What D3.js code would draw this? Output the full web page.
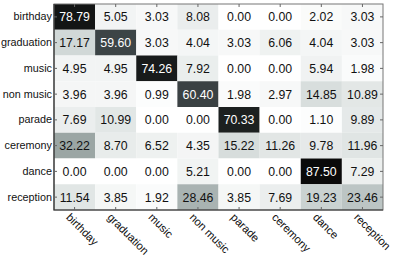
<!DOCTYPE html>
<html lang="en">
<head>
<meta charset="UTF-8">
<title>Confusion matrix</title>
<script src="https://d3js.org/d3.v7.min.js"></script>
<style>
  body { margin: 0; background: #fff; }
  text { font-family: "Liberation Sans", Arial, sans-serif; }
</style>
</head>
<body>
<svg id="chart" width="399" height="258"></svg>
<script>
// row = true class, column = predicted class (percent)
const classes = ['birthday', 'graduation', 'music', 'non music', 'parade', 'ceremony', 'dance', 'reception'];
const birthday   = [78.79, 5.05, 3.03, 8.08, 0.00, 0.00, 2.02, 3.03];
const graduation = [17.17, 59.60, 3.03, 4.04, 3.03, 6.06, 4.04, 3.03];
const music      = [4.95, 4.95, 74.26, 7.92, 0.00, 0.00, 5.94, 1.98];
const nonMusic   = [3.96, 3.96, 0.99, 60.40, 1.98, 2.97, 14.85, 10.89];
const parade     = [7.69, 10.99, 0.00, 0.00, 70.33, 0.00, 1.10, 9.89];
const ceremony   = [32.22, 8.70, 6.52, 4.35, 15.22, 11.26, 9.78, 11.96];
const dance      = [0.00, 0.00, 0.00, 5.21, 0.00, 0.00, 87.50, 7.29];
const reception  = [11.54, 3.85, 1.92, 28.46, 3.85, 7.69, 19.23, 23.46];
const matrix = [birthday, graduation, music, nonMusic, parade, ceremony, dance, reception];

const svg = d3.select('#chart');
const pLeft = 54, pTop = 4, pRight = 383, pBottom = 210;

const x = d3.scaleBand().domain(classes).range([pLeft, pRight]);
const y = d3.scaleBand().domain(classes).range([pTop, pBottom]);

const color = d3.scaleLinear()
  .domain([0, 15, 23.5, 32.2, 59.6, 70, 87.5])
  .range(['#ffffff', '#d8dedd', '#bcc5c4', '#9ba6a4', '#3c4446', '#1c2020', '#0a0a0a'])
  .clamp(true);

const cells = [];
matrix.forEach((row, i) => row.forEach((v, j) => cells.push({ r: classes[i], c: classes[j], v })));

svg.append('g').selectAll('rect')
  .data(cells).enter().append('rect')
  .attr('x', d => x(d.c))
  .attr('y', d => y(d.r))
  .attr('width', x.bandwidth())
  .attr('height', y.bandwidth())
  .attr('fill', d => color(d.v));

svg.append('g').selectAll('text')
  .data(cells).enter().append('text')
  .attr('x', d => x(d.c) + x.bandwidth() / 2)
  .attr('y', d => y(d.r) + y.bandwidth() / 2)
  .attr('dy', '0.36em')
  .attr('text-anchor', 'middle')
  .attr('font-size', 12.3)
  .attr('fill', d => d.v > 45 ? '#fff' : '#111')
  .text(d => d.v.toFixed(2));

// frame
svg.append('rect')
  .attr('x', pLeft).attr('y', pTop)
  .attr('width', pRight - pLeft).attr('height', pBottom - pTop)
  .attr('fill', 'none').attr('stroke', '#777').attr('stroke-width', 1);
svg.append('path')
  .attr('d', `M${pLeft},${pTop}V${pBottom}H${pRight}`)
  .attr('fill', 'none').attr('stroke', '#333').attr('stroke-width', 1.2);

// axes with inward ticks
const tickLen = 3;
const xAxisB = svg.append('g').attr('transform', `translate(0,${pBottom})`)
  .call(d3.axisBottom(x).tickSize(-tickLen).tickFormat(''));
const xAxisT = svg.append('g').attr('transform', `translate(0,${pTop})`)
  .call(d3.axisTop(x).tickSize(-tickLen).tickFormat(''));
const yAxisL = svg.append('g').attr('transform', `translate(${pLeft},0)`)
  .call(d3.axisLeft(y).tickSize(-tickLen).tickPadding(2));
const yAxisR = svg.append('g').attr('transform', `translate(${pRight},0)`)
  .call(d3.axisRight(y).tickSize(-tickLen).tickFormat(''));
[xAxisB, xAxisT, yAxisL, yAxisR].forEach(a => {
  a.select('.domain').remove();
  a.selectAll('line').attr('stroke', '#666');
});
yAxisL.selectAll('text')
  .attr('font-size', 10.8)
  .attr('fill', '#111')
  .attr('font-family', '"Liberation Sans", Arial, sans-serif');

// rotated x labels
svg.append('g').selectAll('text')
  .data(classes).enter().append('text')
  .attr('transform', d => `translate(${x(d) + x.bandwidth() / 2 - 9},${pBottom + 8}) rotate(45)`)
  .attr('text-anchor', 'start')
  .attr('font-size', 11.2)
  .attr('fill', '#111')
  .text(d => d);
</script>
</body>
</html>
